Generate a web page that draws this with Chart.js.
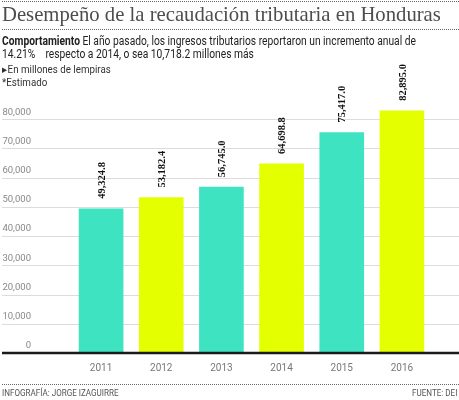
<!DOCTYPE html>
<html>
<head>
<meta charset="utf-8">
<script src="https://cdn.jsdelivr.net/npm/chart.js@4.4.1/dist/chart.umd.min.js"></script>
<style>
    html, body { margin: 0; padding: 0; background: #fff; }
    #wrap { position: relative; width: 459px; height: 400px; overflow: hidden; }
    #chart { position: absolute; left: 0; top: 0; }
    .t { position: absolute; white-space: nowrap; transform-origin: 0 0; }
    .dots { position: absolute; left: 2px; right: 0; border-top: 1px dotted #666; height: 0; }
    #title { left: 2px; top: 4px; font: 20.7px "Liberation Serif", serif; color: #4d4d4d; line-height: 20px; }
    .body { left: 2px; font: 12px Roboto, sans-serif; color: #222; line-height: 12px; transform: scaleX(0.855); }
    .small { left: 2px; font: 10.5px Roboto, sans-serif; color: #333; line-height: 10px; transform: scaleX(0.93); }
    .foot { font: 9.5px Roboto, sans-serif; color: #555; line-height: 10px; top: 388px; transform: scaleX(0.85); }
    #right { transform-origin: 100% 0; }
</style>
</head>
<body>
<div id="wrap">
    <canvas id="chart" width="459" height="400"></canvas>
    <div class="dots" style="top:1px"></div>
    <div class="t" id="title">Desempeño de la recaudación tributaria en Honduras</div>
    <div class="dots" style="top:29px"></div>
    <div class="t body" style="top:35px"><b>Comportamiento</b> El año pasado, los ingresos tributarios reportaron un incremento anual de</div>
    <div class="t body" style="top:48px">14.21%&nbsp;&nbsp;&nbsp; respecto a 2014, o sea 10,718.2 millones más</div>
    <div class="t small" style="top:65px">▸En millones de lempiras</div>
    <div class="t small" style="top:78px">*Estimado</div>
    <div class="dots" style="top:384px"></div>
    <div class="t foot" style="left:2px">INFOGRAFÍA: JORGE IZAGUIRRE</div>
    <div class="t foot" id="right" style="right:2px">FUENTE: DEI</div>
</div>
<script>
    var years = ["2011", "2012", "2013", "2014", "2015", "2016"]
    var recaudacion = [49324.8, 53182.4, 56745.0, 64698.8, 75417.0, 82895.0]
    var yTicksMax = 80000
    var tickStep = 10000

    var teal = "#3EE4C1"
    var lime = "#E4FF00"

    var fmtValue = function (v) {
        return v.toLocaleString("en-US", { minimumFractionDigits: 1, maximumFractionDigits: 1 })
    }

    // horizontal rules run across the whole picture, not only the plot area
    var fullWidthGrid = {
        id: "fullWidthGrid",
        beforeDatasetsDraw: function (chart) {
            var ctx = chart.ctx
            var y = chart.scales.y
            ctx.save()
            ctx.strokeStyle = "#dcdcdc"
            ctx.lineWidth = 1
            y.ticks.forEach(function (t) {
                if (t.value === 0) return
                var py = Math.round(y.getPixelForValue(t.value)) + 0.5
                ctx.beginPath()
                ctx.moveTo(2, py)
                ctx.lineTo(chart.width, py)
                ctx.stroke()
            })
            ctx.restore()
        },
        afterDatasetsDraw: function (chart) {
            var ctx = chart.ctx
            var py = chart.scales.y.getPixelForValue(0)
            ctx.save()
            ctx.strokeStyle = "#1a1a1a"
            ctx.lineWidth = 2.5
            ctx.beginPath()
            ctx.moveTo(2, py)
            ctx.lineTo(chart.width, py)
            ctx.stroke()
            ctx.restore()
        }
    }

    var barLabels = {
        id: "barLabels",
        afterDatasetsDraw: function (chart) {
            var ctx = chart.ctx
            var meta = chart.getDatasetMeta(0)
            ctx.save()
            ctx.fillStyle = "#111"
            ctx.font = "bold 10.5px 'Liberation Serif', serif"
            ctx.textAlign = "left"
            ctx.textBaseline = "middle"
            meta.data.forEach(function (bar, i) {
                ctx.save()
                ctx.translate(bar.x + 1, bar.y - 10)
                ctx.rotate(-Math.PI / 2)
                ctx.fillText(fmtValue(recaudacion[i]), 0, 0)
                ctx.restore()
            })
            ctx.restore()
        }
    }

    new Chart(document.getElementById("chart"), {
        type: "bar",
        data: {
            labels: years,
            datasets: [{
                label: "Recaudación tributaria",
                data: recaudacion,
                backgroundColor: years.map(function (y, i) { return i % 2 ? lime : teal }),
                barThickness: 44,
                borderWidth: 0
            }]
        },
        options: {
            responsive: false,
            animation: false,
            devicePixelRatio: 1,
            layout: { padding: { left: 2, right: 27, top: 90, bottom: 27 } },
            plugins: { legend: { display: false }, tooltip: { enabled: false } },
            scales: {
                x: {
                    grid: { display: false, drawTicks: false },
                    border: { display: false },
                    ticks: { color: "#777", font: { family: "Roboto", size: 10 }, padding: 9 },
                    afterFit: function (s) { s.height = 20 }
                },
                y: {
                    min: 0,
                    max: 90000,
                    grid: { display: false, drawTicks: false },
                    border: { display: false },
                    ticks: {
                        stepSize: tickStep,
                        padding: 40,
                        labelOffset: -7,
                        color: "#888",
                        font: { family: "Roboto", size: 9.5 },
                        callback: function (v) { return v.toLocaleString("en-US") }
                    },
                    afterBuildTicks: function (s) {
                        s.ticks = s.ticks.filter(function (t) { return t.value <= yTicksMax })
                    },
                    afterFit: function (s) { s.width = 69 }
                }
            }
        },
        plugins: [fullWidthGrid, barLabels]
    })
</script>
</body>
</html>
